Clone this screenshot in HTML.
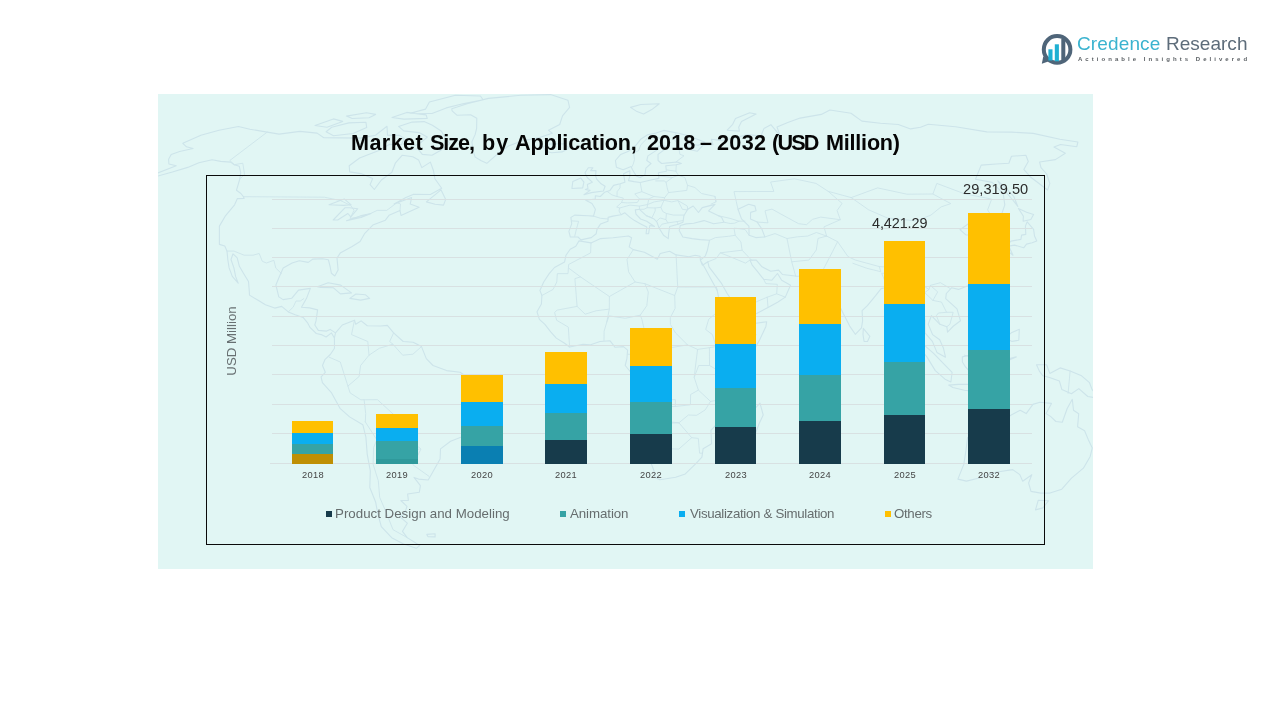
<!DOCTYPE html>
<html lang="en">
<head>
<meta charset="utf-8">
<title>Market Size, by Application, 2018 – 2032 (USD Million)</title>
<style>
  html, body { margin: 0; padding: 0; }
  body {
    width: 1280px; height: 720px; overflow: hidden; position: relative;
    background: #ffffff;
    font-family: "Liberation Sans", sans-serif;
  }
  .abs { position: absolute; }
  #panel { left: 158px; top: 94px; width: 935px; height: 475px; background: #e1f6f4; overflow: hidden; }
  #frame { left: 206px; top: 175px; width: 837px; height: 368px; border: 1px solid #0a0a0a; }
  .grid { left: 272px; width: 760px; height: 1px; background: #d8e1e2; }
  .seg { position: absolute; }
  .w { position: absolute; white-space: pre; line-height: 1; will-change: transform; }
  .title { font-weight: bold; font-size: 21.6px; color: #050505; top: 131.6px; }
  .dl { color: #2b2b2b; }
  .xl { font-size: 9.3px; color: #454545; top: 470.5px; width: 42px; text-align: center; letter-spacing: 0.35px; }
  .lg { font-size: 13.3px; color: #666d6e; top: 506.5px; }
  .mk { position: absolute; width: 5.7px; height: 5.7px; top: 511.1px; }
  #ylab { will-change: auto; font-size: 13.3px; color: #687072; left: 20px; top: 50px; transform: translate(-50%,-50%) rotate(-90deg); transform-origin: center; }
</style>
</head>
<body>

<!-- light panel with faint world map -->
<div id="panel" class="abs">
  <svg id="map" class="abs" style="left:0;top:0" width="935" height="475" viewBox="158 94 935 475" fill="none" stroke="#cde4ea" stroke-width="1.1" stroke-linejoin="round" stroke-linecap="round">
<path d="M182.8 143.3 L200.9 135.2 L219.0 130.2 L238.4 126.5 L249.9 129.2 L267.2 132.1 L279.1 134.1 L299.9 131.4 L317.1 133.1 L323.8 137.7 L340.8 137.9 L360.3 138.1 L375.5 135.2 L387.0 126.3 L387.5 135.3 L399.6 135.4 L404.2 138.4 L401.6 144.5 L389.2 144.4 L378.9 150.4 L359.6 158.0 L349.2 165.7 L349.7 171.9 L360.9 173.6 L372.7 178.4 L370.1 184.7 L374.3 189.5 L381.4 180.0 L391.9 172.2 L395.5 162.8 L402.3 155.2 L412.8 156.8 L418.6 159.9 L421.8 167.6 L430.4 162.1 L433.5 170.8 L434.9 178.7 L441.7 188.2 L430.4 194.5 L413.1 194.4 L405.9 197.6 L394.1 204.0 L411.6 197.6 L410.2 204.1 L419.1 207.3 L401.0 215.4 L400.0 210.5 L389.0 215.3 L385.4 220.2 L372.8 225.1 L364.8 233.3 L360.1 241.5 L352.1 246.5 L340.2 253.1 L337.0 258.1 L338.1 269.9 L334.8 276.0 L331.4 273.3 L330.1 266.5 L328.4 259.8 L322.4 258.8 L312.7 259.1 L308.3 262.4 L299.3 260.7 L292.1 263.1 L283.2 268.1 L279.4 276.5 L275.9 285.0 L278.8 296.9 L283.1 299.6 L291.7 298.3 L298.5 290.1 L310.4 288.4 L306.4 298.6 L301.5 307.2 L309.6 307.9 L317.6 309.9 L316.0 320.9 L314.8 325.0 L318.3 330.4 L326.6 331.1 L330.1 329.4 L335.5 332.9 L334.4 338.0 L331.5 332.9 L326.1 337.0 L321.2 334.6 L316.3 333.5 L310.2 327.7 L307.4 322.6 L303.1 317.4 L295.2 314.7 L288.3 311.9 L281.7 306.4 L274.7 308.1 L265.4 304.7 L258.1 300.3 L249.5 295.1 L249.2 290.0 L248.5 281.5 L243.3 273.0 L239.4 266.3 L237.2 257.8 L233.0 253.8 L231.0 259.5 L233.9 267.9 L235.6 276.4 L238.2 283.2 L232.3 276.4 L229.1 267.9 L227.8 259.5 L227.0 251.1 L224.8 246.0 L219.4 244.4 L219.4 236.0 L219.4 226.1 L225.2 216.2 L234.6 204.8 L237.4 198.6 L244.1 198.4 L243.4 196.7 L240.9 193.5 L236.5 190.2 L239.8 179.0 L240.7 172.7 L239.3 166.3 L234.3 164.7 L230.6 162.1 L220.7 161.4 L212.1 159.7 L198.9 162.7 L187.7 167.4 L172.4 172.0 L155.7 176.6 L144.1 178.1 L156.8 173.4 L176.2 165.7 L168.9 164.0 L168.6 159.2 L171.2 154.5 L179.6 151.5 L193.1 148.5 L186.5 146.8 L182.8 143.3 Z M451.8 108.8 L467.1 103.8 L488.4 98.4 L520.7 95.3 L550.5 94.6 L567.9 100.2 L569.6 107.3 L562.5 115.8 L559.7 124.5 L548.5 130.3 L552.3 133.3 L538.8 137.7 L523.0 140.6 L508.4 146.0 L497.3 154.1 L486.8 163.3 L481.3 160.8 L475.2 157.1 L473.1 151.0 L471.9 141.9 L475.2 134.4 L476.6 128.5 L476.8 118.3 L470.6 114.7 L456.9 115.2 L452.1 110.8 L451.8 108.8 Z M424.1 121.6 L432.4 125.2 L441.5 131.2 L445.6 138.7 L450.0 143.3 L440.0 150.8 L432.0 155.3 L422.3 154.4 L418.2 149.1 L408.1 149.1 L420.2 143.1 L427.3 137.1 L419.0 132.6 L403.7 130.9 L398.6 126.4 L412.2 122.1 L424.1 121.6 Z M331.7 127.2 L348.9 122.9 L365.9 122.2 L366.7 127.6 L353.0 133.5 L333.5 135.7 L326.1 131.7 L331.7 127.2 Z M315.0 125.5 L333.4 118.9 L342.7 121.4 L327.0 127.2 L315.0 125.5 Z M410.1 113.3 L425.6 109.1 L429.4 102.0 L455.4 95.2 L480.4 96.0 L483.1 99.7 L462.9 103.8 L446.3 107.9 L432.0 113.5 L410.1 113.3 Z M392.0 117.5 L406.8 112.4 L426.1 114.9 L427.2 118.4 L403.9 119.1 L392.0 117.5 Z M346.4 116.1 L366.5 112.8 L375.6 114.4 L369.0 117.8 L352.2 118.5 L346.4 116.1 Z M317.4 286.8 L328.2 282.7 L340.7 285.1 L351.5 292.9 L340.4 293.9 L333.5 287.8 L320.5 287.4 L317.4 286.8 Z M349.8 298.4 L355.9 294.0 L365.3 294.7 L369.6 298.4 L360.7 300.1 L349.8 298.4 Z M426.4 201.9 L441.0 189.8 L445.7 199.4 L443.5 205.1 L435.1 204.2 L426.4 201.9 Z M543.2 146.7 L549.0 144.0 L564.0 143.7 L569.0 148.2 L562.1 151.9 L551.7 152.8 L545.7 151.2 L543.2 146.7 Z M335.5 332.9 L342.3 325.0 L354.5 320.2 L355.7 324.3 L361.1 320.9 L367.3 325.7 L380.7 326.0 L387.4 325.4 L393.6 332.9 L403.2 341.5 L413.2 342.2 L421.5 346.6 L426.3 358.6 L433.0 365.5 L446.6 370.6 L460.1 372.3 L470.3 379.2 L477.3 386.0 L476.1 396.3 L468.3 406.5 L466.2 420.1 L461.5 437.1 L450.6 441.2 L440.5 448.9 L440.1 459.0 L432.5 472.4 L428.2 480.0 L418.5 479.1 L414.0 477.4 L420.4 485.7 L419.3 492.3 L407.6 494.0 L408.4 500.5 L400.8 500.5 L407.0 506.4 L404.5 513.6 L400.0 516.8 L407.3 523.2 L402.5 531.3 L407.2 537.6 L419.7 545.5 L416.3 548.3 L403.6 544.0 L391.7 537.7 L381.3 526.6 L377.8 513.7 L375.7 502.3 L369.8 487.5 L370.3 470.9 L367.2 454.1 L365.9 437.2 L362.8 424.7 L349.6 416.9 L340.0 408.3 L331.6 392.9 L322.4 382.6 L321.1 376.8 L325.3 372.3 L322.5 365.5 L325.1 359.3 L330.3 354.5 L334.5 348.3 L334.4 338.0 L335.5 332.9 Z M426.8 534.4 L435.1 533.7 L435.1 536.9 L427.9 536.6 L426.8 534.4 Z M663.7 130.4 L678.4 133.3 L688.5 135.7 L704.9 142.2 L698.2 145.2 L685.5 143.7 L690.5 149.8 L697.2 151.3 L703.2 145.2 L713.0 144.6 L711.3 139.2 L721.6 140.6 L735.1 137.6 L748.2 134.6 L760.9 136.0 L763.9 128.6 L770.9 124.7 L780.2 135.9 L777.0 127.0 L787.8 122.6 L800.1 118.1 L821.3 114.4 L829.9 110.0 L851.0 113.3 L861.9 121.1 L880.5 123.2 L898.3 124.5 L910.6 128.9 L920.5 127.3 L928.3 124.2 L955.5 126.8 L986.8 131.9 L1011.6 132.1 L1033.2 133.4 L1059.9 139.2 L1077.9 142.0 L1076.8 146.7 L1060.5 144.5 L1054.0 147.0 L1065.3 153.2 L1055.4 159.6 L1039.6 162.0 L1041.0 167.7 L1046.7 174.0 L1049.8 183.5 L1047.6 190.0 L1030.8 177.3 L1023.8 169.4 L1028.3 161.5 L1025.9 155.2 L1011.5 156.3 L1008.9 163.2 L996.2 164.0 L981.2 165.1 L978.0 173.0 L975.5 179.3 L992.2 182.4 L1003.2 193.6 L1004.8 204.9 L1000.9 216.4 L992.9 218.1 L991.4 223.0 L988.2 228.0 L998.3 236.2 L1000.4 242.2 L993.8 244.5 L989.0 236.2 L983.2 232.9 L980.2 227.3 L970.7 229.7 L968.4 223.8 L960.0 229.7 L965.5 234.7 L977.2 236.3 L972.6 242.9 L981.8 252.9 L986.2 259.6 L983.5 269.7 L981.5 278.2 L975.0 284.0 L967.4 286.0 L958.5 289.4 L951.5 287.8 L946.3 293.5 L945.7 298.6 L957.0 308.9 L960.5 320.8 L953.5 326.0 L947.5 332.2 L946.9 326.7 L939.9 324.3 L931.4 315.7 L928.2 324.3 L932.6 334.6 L939.7 339.7 L943.5 348.3 L945.5 357.2 L936.9 352.4 L932.4 341.4 L925.0 332.9 L925.1 320.9 L918.9 305.5 L912.6 307.9 L907.4 300.4 L897.5 288.5 L890.6 286.8 L881.1 288.6 L875.8 295.4 L867.4 305.6 L862.1 310.7 L862.6 320.9 L861.5 327.8 L855.3 334.3 L849.7 326.1 L843.5 314.1 L836.9 300.5 L834.8 290.3 L827.4 291.0 L821.7 285.9 L815.9 280.2 L811.9 275.8 L797.3 276.2 L782.5 274.5 L778.6 270.1 L770.7 271.2 L762.0 266.8 L756.3 260.1 L749.9 260.1 L752.2 265.1 L757.8 271.8 L761.7 276.9 L763.6 279.2 L771.9 280.2 L777.5 273.5 L781.7 280.2 L790.5 285.3 L785.3 297.1 L777.6 302.2 L768.0 307.4 L755.2 314.2 L745.4 318.3 L739.8 318.6 L736.5 307.4 L727.3 293.8 L721.7 283.7 L709.0 266.9 L707.9 261.8 L702.4 265.2 L700.4 260.2 L705.4 255.8 L707.4 250.2 L709.5 240.3 L700.1 239.6 L692.2 238.6 L682.8 237.0 L679.2 230.4 L680.3 225.5 L686.2 223.9 L693.7 223.2 L704.0 220.6 L713.6 223.8 L723.9 222.2 L721.6 217.3 L708.6 210.9 L715.0 204.4 L702.2 207.6 L698.5 212.5 L693.2 206.0 L687.7 209.3 L683.9 215.7 L683.0 222.2 L677.2 224.5 L669.7 226.5 L668.6 233.7 L668.3 238.6 L663.5 235.3 L659.1 228.1 L657.0 222.2 L654.1 219.0 L646.5 215.8 L639.5 209.3 L635.3 209.9 L636.0 214.1 L640.6 219.0 L646.7 221.3 L654.5 226.5 L649.8 225.5 L648.6 233.7 L646.1 233.7 L646.8 227.1 L640.7 223.9 L634.6 220.6 L630.0 217.4 L624.9 212.8 L621.0 214.8 L612.9 216.1 L608.1 217.4 L608.0 221.3 L600.6 223.9 L597.0 229.4 L596.2 233.7 L591.3 237.6 L580.9 239.9 L578.0 237.0 L570.3 237.0 L568.9 231.4 L571.7 223.9 L570.9 217.4 L574.7 215.1 L588.1 215.7 L593.5 216.1 L595.4 209.3 L592.0 203.5 L585.8 200.3 L595.2 199.0 L595.4 195.8 L600.3 196.5 L604.5 192.3 L610.0 190.4 L613.6 185.4 L620.1 183.8 L624.9 182.2 L623.6 173.8 L629.8 170.7 L629.9 175.9 L628.5 180.6 L634.1 181.6 L640.2 182.5 L652.0 179.7 L658.9 178.4 L658.4 172.8 L666.4 171.3 L665.8 165.7 L676.3 164.7 L681.4 163.5 L677.2 162.0 L668.1 162.9 L661.6 163.5 L658.1 160.5 L658.0 154.4 L666.3 148.3 L664.7 145.9 L658.5 146.2 L656.4 150.4 L647.9 155.9 L646.8 160.5 L651.0 163.5 L645.9 168.2 L644.9 175.0 L640.1 177.5 L636.2 175.9 L632.5 169.7 L631.1 166.6 L623.1 169.7 L616.4 167.2 L615.4 160.5 L620.7 154.4 L628.5 151.3 L635.9 145.3 L640.6 139.3 L647.6 134.8 L654.6 133.4 L663.7 130.4 Z M584.0 194.8 L591.4 192.6 L603.4 191.0 L605.1 186.3 L601.1 183.8 L596.7 179.1 L595.6 175.9 L596.0 170.6 L590.6 170.6 L592.8 167.8 L588.3 167.8 L585.0 172.8 L587.2 177.5 L592.3 182.2 L587.3 184.4 L588.0 188.5 L585.4 189.5 L590.1 190.4 L584.0 194.8 Z M571.9 188.5 L582.7 187.9 L583.9 182.2 L580.8 178.1 L572.8 181.6 L571.9 188.5 Z M579.0 240.9 L591.0 242.9 L600.6 238.6 L613.0 237.7 L628.5 236.0 L631.6 237.7 L629.2 246.9 L633.3 249.6 L644.4 252.2 L657.3 259.2 L660.2 253.5 L669.6 251.2 L676.1 254.9 L689.0 256.8 L695.2 255.2 L700.1 256.2 L700.4 260.2 L705.2 268.5 L711.6 280.3 L717.2 290.4 L718.7 297.9 L725.0 309.1 L732.6 314.2 L739.5 319.3 L740.0 322.7 L752.4 323.7 L766.7 321.7 L765.9 326.4 L759.7 339.8 L754.9 348.3 L743.2 357.9 L734.8 368.2 L729.7 374.0 L726.1 382.6 L727.6 391.1 L730.7 399.7 L730.7 413.3 L717.9 422.8 L710.9 430.3 L711.6 443.8 L703.1 448.8 L701.9 457.2 L695.6 463.9 L685.3 473.9 L675.7 477.2 L659.8 479.8 L654.9 477.2 L653.9 470.5 L649.4 458.9 L644.7 450.5 L643.3 437.0 L635.2 421.8 L636.2 409.9 L641.0 399.7 L639.7 391.1 L636.0 382.6 L633.6 375.7 L625.2 365.5 L626.9 358.6 L627.6 350.1 L623.5 346.6 L615.1 347.3 L610.1 340.8 L600.0 341.5 L589.9 344.9 L583.1 344.2 L569.6 347.0 L564.6 343.2 L556.3 338.1 L550.7 331.9 L544.9 324.4 L539.4 319.3 L537.0 311.8 L541.4 304.0 L541.9 295.5 L539.9 290.4 L543.7 282.0 L549.2 273.6 L554.5 267.5 L564.6 261.9 L566.0 255.2 L570.2 249.2 L575.8 246.2 L579.0 240.9 Z M760.0 403.1 L763.2 415.0 L759.2 423.5 L750.4 446.5 L742.1 448.9 L738.0 440.4 L741.5 430.3 L741.3 420.1 L748.2 415.7 L755.3 408.2 L760.0 403.1 Z M1027.2 221.8 L1033.6 229.4 L1034.5 236.0 L1036.8 241.0 L1032.1 242.7 L1026.5 244.1 L1023.7 247.8 L1014.5 245.1 L1008.7 246.1 L1013.0 255.2 L1008.0 251.2 L1005.9 246.8 L1010.9 241.1 L1020.9 239.4 L1021.6 235.1 L1025.8 234.4 L1025.4 226.1 L1027.2 221.8 Z M1023.1 221.2 L1023.4 216.2 L1018.4 208.4 L1026.6 212.3 L1033.6 214.5 L1030.8 219.5 L1023.1 221.2 Z M1017.8 206.5 L1013.9 196.7 L1004.9 187.1 L997.8 180.8 L1001.5 187.1 L1012.8 200.0 L1017.8 206.5 Z M988.8 275.8 L992.7 279.9 L991.5 286.7 L988.6 283.3 L988.8 275.8 Z M863.3 328.4 L869.9 336.3 L867.5 341.5 L864.1 341.5 L863.0 334.6 L863.3 328.4 Z M993.6 298.6 L999.3 298.9 L1000.5 307.1 L1009.1 317.3 L1000.3 314.6 L994.5 310.5 L993.6 298.6 Z M1005.1 338.0 L1011.3 332.8 L1019.3 329.3 L1018.8 340.3 L1012.1 341.4 L1005.1 338.0 Z M962.3 356.9 L969.0 355.2 L975.6 350.0 L983.8 344.8 L988.3 338.0 L995.5 344.8 L991.9 353.4 L992.7 358.6 L987.6 367.2 L985.6 375.8 L979.0 374.1 L970.6 372.4 L965.7 367.2 L962.4 362.0 L962.3 356.9 Z M915.6 342.8 L923.1 344.2 L933.6 353.4 L943.8 363.8 L952.1 372.3 L950.9 382.0 L945.0 379.2 L935.3 370.6 L926.9 356.9 L915.6 342.8 Z M948.7 385.1 L958.2 384.4 L968.3 384.4 L979.7 388.5 L978.7 391.9 L964.4 390.2 L952.9 387.5 L948.7 385.1 Z M997.1 381.0 L995.9 372.4 L999.4 360.3 L1009.5 358.6 L1016.3 356.9 L1004.5 362.0 L1002.8 367.2 L1009.5 365.5 L1005.4 370.6 L1009.1 377.5 L1004.0 378.2 L1000.9 372.4 L999.8 381.0 L997.1 381.0 Z M1036.5 364.8 L1046.6 364.8 L1049.8 373.4 L1060.1 367.9 L1070.1 371.0 L1081.6 375.8 L1089.5 382.7 L1092.1 389.6 L1099.2 398.3 L1087.8 396.5 L1078.8 388.6 L1071.4 393.8 L1061.9 389.6 L1059.4 381.0 L1049.5 377.5 L1042.9 375.8 L1039.7 371.7 L1036.5 364.8 Z M967.6 437.4 L965.9 450.9 L963.8 464.4 L957.9 479.1 L966.4 481.1 L980.4 477.8 L995.6 472.2 L1012.7 469.6 L1019.8 474.6 L1022.7 481.3 L1031.8 474.7 L1028.6 483.0 L1031.0 491.4 L1040.8 493.1 L1050.0 493.1 L1061.8 489.2 L1071.5 478.2 L1083.4 468.2 L1090.2 456.4 L1092.3 447.9 L1088.2 439.4 L1084.6 430.8 L1077.6 426.7 L1078.7 413.7 L1073.5 410.3 L1072.3 399.3 L1067.2 408.5 L1062.3 422.2 L1055.9 421.5 L1050.5 416.4 L1046.1 413.6 L1051.5 403.4 L1039.9 402.3 L1032.9 404.4 L1026.2 413.6 L1020.2 410.2 L1010.8 415.3 L1000.4 422.1 L990.9 429.9 L978.6 433.0 L967.6 437.4 Z M1038.2 500.3 L1048.6 500.7 L1042.9 507.9 L1035.5 509.9 L1038.2 500.3 Z M727.2 130.2 L732.7 124.3 L735.5 118.5 L749.7 112.7 L756.1 114.1 L741.5 121.4 L738.7 127.2 L739.4 131.1 L727.2 130.2 Z M630.5 107.4 L640.8 104.5 L659.3 103.7 L651.8 109.6 L643.6 113.9 L637.0 111.6 L630.5 107.4 Z M738.0 209.2 L748.7 204.3 L754.9 205.9 L756.1 210.8 L750.6 212.4 L750.5 218.9 L757.2 222.1 L761.7 228.7 L764.9 236.9 L755.7 237.6 L749.1 235.3 L748.9 226.1 L741.5 218.9 L738.0 209.2 Z M329.0 204.7 L344.2 198.9 L351.1 204.8 L343.4 205.4 L329.0 204.7 Z M333.2 220.0 L345.1 207.7 L349.5 207.7 L357.8 208.7 L350.8 216.8 L347.9 213.5 L337.7 220.0 L333.2 220.0 Z M346.5 220.7 L361.0 217.5 L370.9 213.6 L360.2 215.9 L346.5 220.7 Z"/>
<path d="M243.4 196.7 L324.3 197.2 L340.3 200.5 L350.7 205.4 L354.0 210.3 L350.0 218.4 L361.3 216.9 L370.3 213.6 L377.2 210.4 L386.7 210.4 L397.0 202.7 L400.5 204.0 L400.0 210.5 M267.2 132.1 L229.8 160.5 L234.3 164.7 L242.8 163.2 L244.5 174.3 L240.5 178.4 M227.0 251.1 L234.0 251.1 L244.1 255.2 L253.0 255.2 L259.2 253.5 L262.3 261.3 L266.4 263.0 L273.9 260.3 L275.8 268.1 L281.4 273.5 M288.3 311.9 L293.2 307.1 L296.0 301.0 L300.3 301.0 L303.8 298.6 M429.1 476.4 L412.9 464.8 L421.0 449.0 L405.8 437.2 L404.6 429.7 L396.1 416.8 L377.5 399.7 L360.8 399.8 L350.1 392.9 L347.9 386.1 L359.1 376.5 L360.6 365.5 L369.0 355.2 L379.3 348.3 L392.9 344.2 L402.7 355.2 L412.9 354.2 L421.5 346.6 M407.2 537.6 L393.0 529.7 L386.7 513.6 L379.7 497.3 L378.3 480.8 L373.1 464.2 L373.6 447.4 L376.9 439.9 L365.3 421.9 M376.9 439.9 L391.1 437.2 L404.6 429.7 M391.1 437.2 L409.2 448.3 L419.1 449.3 M365.3 421.9 L365.7 413.4 L364.1 399.8 M329.2 357.2 L340.3 362.0 L347.9 386.1 M354.5 320.2 L351.5 334.6 L367.8 341.5 L369.0 355.2 M393.6 332.9 L389.7 341.5 L392.9 344.2 M676.1 254.9 L677.7 287.1 L716.4 287.0 M677.7 287.1 L674.7 295.5 L675.1 308.4 L670.3 317.6 L670.4 324.4 L675.6 333.0 L687.5 344.9 L697.6 349.4 L709.4 347.7 L716.1 346.6 L733.0 348.3 L735.7 348.7 L733.1 364.8 L734.8 368.2 M633.3 249.6 L627.0 259.5 L628.6 271.9 L635.1 282.0 L644.9 283.7 L674.7 295.5 M635.1 282.0 L609.4 296.5 L580.5 276.9 L568.4 267.9 L568.6 264.5 L590.6 252.9 L591.0 242.9 M644.9 283.7 L648.3 292.1 L646.8 305.7 L640.2 315.2 L641.9 319.3 L645.4 334.7 L648.7 336.4 L645.4 348.3 L649.5 354.5 L639.7 354.5 L633.0 354.5 L627.6 354.2 M609.4 296.5 L609.3 309.1 L606.8 322.0 L604.1 331.3 L604.0 340.5 M541.9 295.5 L553.1 289.4 L556.8 282.0 L557.3 273.6 L568.0 273.6 L568.4 267.9 M580.5 276.9 L574.9 278.6 L577.1 306.4 L557.1 310.1 L554.6 312.5 L556.7 320.3 L568.3 327.1 L569.6 347.0 M577.1 306.4 L585.2 314.2 L596.0 310.8 L609.3 309.1 M640.2 315.2 L625.2 318.3 L609.2 315.9 L606.8 322.0 M649.5 354.5 L657.6 350.1 L670.7 347.7 L687.5 344.9 M636.0 382.6 L650.4 382.2 L668.7 399.7 L675.4 399.7 L675.3 406.5 L668.6 406.5 L668.3 421.8 L678.9 422.8 L661.6 423.5 L661.3 437.0 L661.0 447.1 L660.7 458.9 L649.4 458.9 M697.6 349.4 L696.0 362.0 L694.2 377.4 L698.4 390.1 L690.6 394.5 L690.4 404.8 L675.3 406.5 M709.4 347.7 L709.5 362.0 L709.5 365.5 L721.2 372.3 L726.9 378.1 M694.2 377.4 L698.7 365.5 L709.5 365.5 M698.4 390.1 L710.5 401.4 L730.7 398.0 M678.9 422.8 L688.4 415.0 L696.7 415.3 L705.2 409.9 L710.5 401.4 M678.9 422.8 L691.7 437.7 L698.3 438.4 L699.6 453.2 L702.2 453.2 M661.0 447.1 L670.1 448.8 L678.8 449.1 L691.7 437.7 M716.4 287.0 L717.2 290.4 M716.1 346.6 L712.5 334.7 L705.7 329.5 L708.7 319.3 L716.8 312.5 L725.0 309.1 M735.7 348.7 L746.4 344.9 L756.2 334.6 L740.0 322.7 M676.3 164.7 L675.9 171.2 L678.3 175.3 L684.9 177.5 L687.5 185.3 L694.9 187.5 L701.5 193.5 L715.0 196.4 L716.0 201.8 L711.1 204.1 M738.0 209.2 L736.2 201.2 L734.0 191.6 L756.8 191.5 L773.9 191.5 L770.6 182.0 L794.4 178.8 L816.0 183.4 L828.1 191.3 L851.2 197.6 M851.2 197.6 L877.6 187.9 L907.0 194.2 L932.9 194.0 L936.8 183.4 L964.5 193.8 L991.7 199.1 L987.6 209.9 L992.9 218.1 M851.2 197.6 L868.6 209.8 L887.2 217.9 L915.9 221.0 L930.9 215.1 L941.1 206.9 L950.8 203.6 L932.9 194.0 M828.1 191.3 L842.1 203.4 L837.1 210.6 L840.3 219.7 L823.9 226.9 L826.7 236.1 L837.6 241.7 L848.0 256.6 L855.2 260.0 L879.4 266.6 L892.4 267.3 L908.3 266.6 L915.2 280.0 L928.9 289.5 L930.3 285.4 L940.4 282.7 L950.0 288.4 M817.5 280.2 L824.7 266.7 L832.5 251.7 L837.6 241.7 M795.7 276.2 L791.7 261.8 L808.9 260.1 L816.3 250.0 L818.0 238.4 L826.7 236.1 M751.5 260.1 L742.1 250.2 L740.9 241.9 L735.2 235.3 L734.0 228.1 L745.0 229.4 L749.1 235.3 M764.9 236.9 L775.0 233.6 L787.0 238.5 L791.7 261.8 M757.2 222.1 L768.0 222.8 L765.0 210.8 L772.0 209.1 L780.8 214.0 L798.6 223.7 L806.5 224.7 L812.4 219.4 L820.7 217.1 L840.3 219.7 M787.0 238.5 L797.4 236.8 L807.5 236.1 L816.4 232.5 L826.7 236.1 M709.5 240.3 L715.4 237.6 L728.5 236.3 L735.2 235.3 M707.9 261.8 L716.2 258.5 L720.3 252.8 L742.1 250.2 M720.3 252.8 L730.3 256.8 L745.5 263.1 L749.9 260.1 M739.8 318.6 L739.5 302.9 L751.2 304.0 L767.2 297.2 L776.7 293.8 L777.3 284.3 L765.8 283.6 L763.6 279.2 M767.2 297.2 L768.0 307.4 M776.7 293.8 L785.3 297.1 M897.5 288.5 L899.9 280.1 L908.3 266.6 M925.1 320.9 L922.5 307.2 L917.7 298.7 L924.7 292.6 L928.9 289.5 M924.7 292.6 L932.9 300.4 L941.5 302.1 L946.6 312.3 L938.4 313.0 L936.4 315.7 L939.9 324.3 M946.6 312.3 L953.2 312.3 L949.9 324.3 L946.9 326.7 M932.9 300.4 L937.7 291.9 L930.3 285.4 M852.9 263.3 L866.9 268.3 L880.7 271.7 L879.4 266.6 M887.3 286.9 L881.7 273.3 L894.0 273.3 L896.9 278.4 L893.8 281.8 L897.5 288.5 M983.2 232.9 L993.1 231.2 M977.5 226.4 L980.9 220.7 L986.5 221.4 L988.4 218.1 L991.9 218.4 M676.0 133.3 L673.3 137.8 L678.3 145.3 L679.9 154.3 L684.0 155.8 L675.9 162.0 M654.9 135.7 L647.8 137.8 L640.9 144.7 L638.6 150.7 L633.6 152.8 L634.5 159.6 L633.2 164.2 L632.0 166.6 M654.9 135.7 L662.2 139.9 L663.7 145.9 M572.0 220.9 L578.6 221.3 L576.5 228.8 L574.7 236.3 M593.5 216.1 L600.6 218.3 L608.0 219.0 M607.1 191.4 L611.9 194.9 L617.0 196.5 L623.3 198.1 L621.5 202.5 L616.7 207.0 L619.7 208.0 L619.0 210.9 L621.0 214.8 M620.1 184.4 L620.0 187.9 L617.1 191.7 L617.0 196.5 M640.2 182.5 L641.9 191.7 L634.8 193.9 L639.5 199.0 L637.3 202.5 L627.3 202.9 L621.5 202.5 M619.7 208.0 L630.0 205.1 L639.4 206.1 L639.5 209.3 M639.5 199.0 L648.8 199.0 L647.6 204.5 L639.4 206.1 M641.9 191.7 L653.9 196.5 L664.6 197.7 L668.5 192.6 L667.2 187.9 L666.1 182.2 L664.1 180.9 L655.7 180.9 M648.8 199.0 L653.9 196.5 M664.6 197.7 L664.0 200.3 L671.7 201.9 L677.9 200.6 L682.4 209.3 L686.9 209.9 M647.6 204.5 L654.2 201.9 L664.0 200.3 M647.6 204.5 L647.1 207.7 L655.1 208.0 L660.9 207.3 L664.0 200.3 M660.9 207.3 L662.7 211.5 L666.4 213.5 L673.4 215.1 L683.8 215.1 M666.4 213.5 L665.9 219.6 L667.9 222.9 L676.9 221.6 L678.1 224.2 M676.9 221.6 L682.9 220.6 M656.9 220.9 L660.1 218.0 L665.9 219.6 M659.1 228.1 L661.9 224.2 L667.9 222.9 M639.5 209.3 L643.9 209.3 L647.1 207.7 M646.5 215.8 L652.0 217.7 L655.2 210.9 L655.1 208.0 M668.5 192.6 L686.8 190.4 L687.5 185.3 M666.1 182.2 L672.5 177.5 L678.3 175.3 M658.7 175.9 L672.5 177.5 M667.1 170.0 L675.9 171.2 M716.0 201.8 L715.0 196.4 M677.9 200.6 L687.3 206.0 L687.7 209.3 M718.3 215.7 L730.9 218.6 L738.9 221.2 L744.9 221.2 M723.9 222.2 L730.2 223.5 L734.7 223.2 L738.9 221.2 M1070.1 371.0 L1068.1 393.4 M964.3 355.2 L972.4 357.2 L980.9 356.9 L983.9 347.6 L990.6 347.6" stroke-width="0.9"/>

  </svg>
</div>

<!-- chart frame -->
<div id="frame" class="abs"></div>

<!-- title -->
<span class="w title" style="left:351.35px;letter-spacing:0.41px">Market</span>
<span class="w title" style="left:430.35px;letter-spacing:-1.08px">Size,</span>
<span class="w title" style="left:481.7px;letter-spacing:1px">by</span>
<span class="w title" style="left:515.46px;letter-spacing:-0.16px">Application,</span>
<span class="w title" style="left:646.74px;letter-spacing:0.08px">2018</span>
<span class="w title" style="left:699.95px;letter-spacing:0px">–</span>
<span class="w title" style="left:717.34px;letter-spacing:0.35px">2032</span>
<span class="w title" style="left:772.02px;letter-spacing:-1.79px">(USD</span>
<span class="w title" style="left:825.5px;letter-spacing:-0.22px">Million)</span>

<!-- gridlines -->
<div class="abs grid" style="top:199px"></div>
<div class="abs grid" style="top:228px"></div>
<div class="abs grid" style="top:257px"></div>
<div class="abs grid" style="top:286px"></div>
<div class="abs grid" style="top:316px"></div>
<div class="abs grid" style="top:345px"></div>
<div class="abs grid" style="top:374px"></div>
<div class="abs grid" style="top:404px"></div>
<div class="abs grid" style="top:433px"></div>
<div class="abs grid" style="top:463px;left:270px;width:762px"></div>

<!-- y axis label -->
<div class="abs" style="left:212px;top:291px;width:40px;height:100px;will-change:transform"><div id="ylab" class="w">USD Million</div></div>

<!-- bars + x labels -->
<div class="seg" style="left:292px;top:420.8px;width:41.2px;height:12.4px;background:#ffc000"></div>
<div class="seg" style="left:292px;top:433.2px;width:41.2px;height:10.6px;background:#0aaef0"></div>
<div class="seg" style="left:292px;top:443.8px;width:41.2px;height:10.4px;background:#36a3a5"></div>
<div class="seg" style="left:292px;top:454.2px;width:41.2px;height:9.4px;background:#bf8f04"></div>
<div class="w xl" style="left:291.6px">2018</div>
<div class="seg" style="left:376px;top:413.8px;width:41.9px;height:14.3px;background:#ffc000"></div>
<div class="seg" style="left:376px;top:428.1px;width:41.9px;height:13.1px;background:#0aaef0"></div>
<div class="seg" style="left:376px;top:441.2px;width:41.9px;height:17.8px;background:#36a3a5"></div>
<div class="seg" style="left:376px;top:459px;width:41.9px;height:4.6px;background:#2f999b"></div>
<div class="w xl" style="left:375.95px">2019</div>
<div class="seg" style="left:461.2px;top:375px;width:41.8px;height:27px;background:#ffc000"></div>
<div class="seg" style="left:461.2px;top:402px;width:41.8px;height:23.6px;background:#0aaef0"></div>
<div class="seg" style="left:461.2px;top:425.6px;width:41.8px;height:20.4px;background:#36a3a5"></div>
<div class="seg" style="left:461.2px;top:446px;width:41.8px;height:17.6px;background:#0a7fb2"></div>
<div class="w xl" style="left:461.1px">2020</div>
<div class="seg" style="left:545.1px;top:351.8px;width:41.9px;height:32.2px;background:#ffc000"></div>
<div class="seg" style="left:545.1px;top:384px;width:41.9px;height:29.3px;background:#0aaef0"></div>
<div class="seg" style="left:545.1px;top:413.3px;width:41.9px;height:26.7px;background:#36a3a5"></div>
<div class="seg" style="left:545.1px;top:440px;width:41.9px;height:23.6px;background:#173b4b"></div>
<div class="w xl" style="left:545.05px">2021</div>
<div class="seg" style="left:630px;top:327.8px;width:41.8px;height:38.2px;background:#ffc000"></div>
<div class="seg" style="left:630px;top:366px;width:41.8px;height:36.2px;background:#0aaef0"></div>
<div class="seg" style="left:630px;top:402.2px;width:41.8px;height:31.8px;background:#36a3a5"></div>
<div class="seg" style="left:630px;top:434px;width:41.8px;height:29.6px;background:#173b4b"></div>
<div class="w xl" style="left:629.9px">2022</div>
<div class="seg" style="left:715px;top:296.8px;width:41.2px;height:47.1px;background:#ffc000"></div>
<div class="seg" style="left:715px;top:343.9px;width:41.2px;height:44.3px;background:#0aaef0"></div>
<div class="seg" style="left:715px;top:388.2px;width:41.2px;height:38.6px;background:#36a3a5"></div>
<div class="seg" style="left:715px;top:426.8px;width:41.2px;height:36.8px;background:#173b4b"></div>
<div class="w xl" style="left:714.6px">2023</div>
<div class="seg" style="left:799px;top:268.6px;width:41.9px;height:55.5px;background:#ffc000"></div>
<div class="seg" style="left:799px;top:324.1px;width:41.9px;height:50.9px;background:#0aaef0"></div>
<div class="seg" style="left:799px;top:375px;width:41.9px;height:46.1px;background:#36a3a5"></div>
<div class="seg" style="left:799px;top:421.1px;width:41.9px;height:42.5px;background:#173b4b"></div>
<div class="w xl" style="left:798.95px">2024</div>
<div class="seg" style="left:883.7px;top:240.9px;width:41.6px;height:62.9px;background:#ffc000"></div>
<div class="seg" style="left:883.7px;top:303.8px;width:41.6px;height:58.5px;background:#0aaef0"></div>
<div class="seg" style="left:883.7px;top:362.3px;width:41.6px;height:52.5px;background:#36a3a5"></div>
<div class="seg" style="left:883.7px;top:414.8px;width:41.6px;height:48.8px;background:#173b4b"></div>
<div class="w xl" style="left:883.5px">2025</div>
<div class="seg" style="left:968px;top:213.1px;width:42px;height:70.9px;background:#ffc000"></div>
<div class="seg" style="left:968px;top:284px;width:42px;height:65.6px;background:#0aaef0"></div>
<div class="seg" style="left:968px;top:349.6px;width:42px;height:59.2px;background:#36a3a5"></div>
<div class="seg" style="left:968px;top:408.8px;width:42px;height:54.8px;background:#173b4b"></div>
<div class="w xl" style="left:968px">2032</div>

<!-- data labels -->
<div class="w dl" style="left:872.41px;top:216px;font-size:14.4px;letter-spacing:-0.08px">4,421.29</div>
<div class="w dl" style="left:962.67px;top:182.3px;font-size:14.6px;letter-spacing:0.03px">29,319.50</div>

<!-- legend -->
<div class="mk" style="left:326.2px;background:#173b4b"></div>
<div class="w lg" style="left:334.74px;letter-spacing:0.01px">Product Design and Modeling</div>
<div class="mk" style="left:560.1px;background:#36a3a5"></div>
<div class="w lg" style="left:569.8px;letter-spacing:-0.08px">Animation</div>
<div class="mk" style="left:679.4px;background:#0aaef0"></div>
<div class="w lg" style="left:689.63px;letter-spacing:-0.33px">Visualization &amp; Simulation</div>
<div class="mk" style="left:885.2px;background:#ffc000"></div>
<div class="w lg" style="left:893.7px;letter-spacing:-0.35px">Others</div>

<!-- logo -->
<svg class="abs" style="left:1036px;top:28px" width="40" height="42" viewBox="1036 28 40 42">
  <circle cx="1057.1" cy="49.4" r="13.3" fill="#ffffff" stroke="#4f6579" stroke-width="4"/>
  <path d="M1043.3 56.3 L1041.8 63.7 L1048.3 61.6 Z" fill="#4f6579"/>
  <rect x="1048.4" y="49.3" width="4.1" height="11.2" fill="#1fb0d2"/>
  <rect x="1054.8" y="44.3" width="4.1" height="17" fill="#1fb0d2"/>
  <rect x="1061.3" y="39" width="4" height="21.5" fill="#4f6579"/>
</svg>
<div class="w" style="left:1077.25px;top:33.5px;font-size:19px;color:#3ab3cf;letter-spacing:0.13px">Credence</div>
<div class="w" style="left:1166.38px;top:33.5px;font-size:19px;color:#5d6c7a;letter-spacing:0.02px">Research</div>
<div class="w" style="left:1077.65px;top:56.3px;font-size:6px;color:#5a5f63;letter-spacing:3.04px;font-weight:bold">Actionable Insights Delivered</div>

</body>
</html>
